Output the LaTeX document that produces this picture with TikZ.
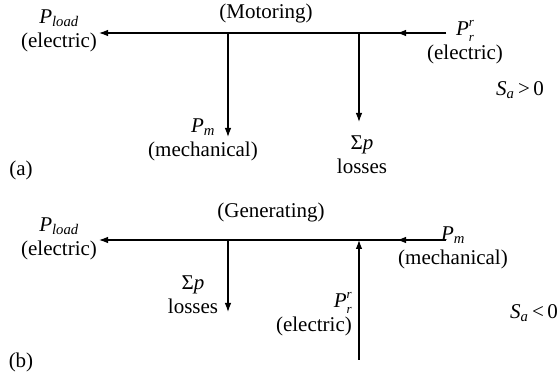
\documentclass[tikz,border=0pt]{standalone}
\usepackage{fontspec}
\setmainfont{Liberation Serif}
\usetikzlibrary{arrows.meta}
\newcommand\Psub[1]{\textit{P}\textsubscript{\textit{#1}}}
\newcommand\Prr{\textit{P}\rlap{\raisebox{-6pt}{\fontsize{13}{13}\selectfont\textit{r}}}\raisebox{9pt}{\fontsize{13}{13}\selectfont\textit{r}}}
\begin{document}
\begin{tikzpicture}[x=1pt,y=-1pt,
  lbl/.style={inner sep=0pt,align=center,font=\fontsize{21}{24}\selectfont},
  flow/.style={line width=1.1pt,-{Latex[length=9pt,width=6.5pt]}}]
\useasboundingbox (0,0) rectangle (558,374);
% ---------- (a) Motoring ----------
\coordinate (aL) at (99,33);
\coordinate (aR) at (446,33);
\coordinate (aM) at (397,33);
\coordinate (aJ1) at (228,33);
\coordinate (aJ2) at (359,33);
\coordinate (aD1) at (228,137);
\coordinate (aD2) at (359,122);
\draw[flow] (aR) -- (aL);
\draw[flow] (aR) -- (aM);
\draw[flow] (aJ1) -- (aD1);
\draw[flow] (aJ2) -- (aD2);
\node[lbl] (aload) at (59,31) {\Psub{load}\\(electric)};
\node[lbl] (amot) at (266,13) {(Motoring)};
\node[lbl] (apr) at (465,42) {\Prr\\(electric)};
\node[lbl] (asa) at (520,90) {\textit{S}\textsubscript{\textit{a}}\,{>}\,0};
\node[lbl] (apm) at (203,140) {\Psub{m}\\(mechanical)};
\node[lbl] (aloss) at (362,155) {Σ\textit{p}\\losses};
\node[lbl] (alab) at (21,170) {(a)};
% ---------- (b) Generating ----------
\coordinate (bL) at (99,240);
\coordinate (bR) at (446,240);
\coordinate (bM) at (397,240);
\coordinate (bJ1) at (228,240);
\coordinate (bJ2) at (359,240);
\coordinate (bD1) at (228,312);
\coordinate (bU) at (359,360);
\draw[flow] (bR) -- (bL);
\draw[flow] (bR) -- (bM);
\draw[flow] (bJ1) -- (bD1);
\draw[flow] (bU) -- (bJ2);
\node[lbl] (bload) at (59,239) {\Psub{load}\\(electric)};
\node[lbl] (bgen) at (271,212) {(Generating)};
\node[lbl] (bpm) at (453,248) {\Psub{m}\\(mechanical)};
\node[lbl] (bloss) at (193,295) {Σ\textit{p}\\losses};
\node[lbl,align=right,anchor=east] (bpr) at (352,314) {\Prr\\(electric)};
\node[lbl] (bsa) at (534,313) {\textit{S}\textsubscript{\textit{a}}\,{<}\,0};
\node[lbl] (blab) at (21,362) {(b)};
\end{tikzpicture}
\end{document}
